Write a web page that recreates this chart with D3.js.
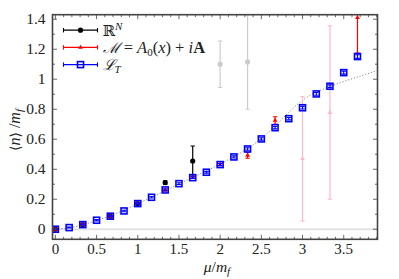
<!DOCTYPE html>
<html>
<head>
<meta charset="utf-8">
<script src="https://cdn.jsdelivr.net/npm/d3@7"></script>
<style>
  body { margin: 0; background: #fff; }
</style>
</head>
<body>
<div id="chart"></div>
<script>
// L_T (blue squares)
const blueX = [0, 0.167, 0.333, 0.5, 0.667, 0.833, 1, 1.167, 1.333, 1.5, 1.667, 1.833,
               2, 2.167, 2.333, 2.5, 2.667, 2.833, 3, 3.167, 3.333, 3.5, 3.667];
const blueY = [0, 0.011, 0.031, 0.06, 0.087, 0.122, 0.171, 0.213, 0.262, 0.304, 0.344, 0.38,
               0.431, 0.482, 0.535, 0.602, 0.677, 0.737, 0.81, 0.902, 0.953, 1.044, 1.151];
const blueErr = [0.002, 0.003, 0.003, 0.004, 0.004, 0.005, 0.005, 0.005, 0.006, 0.006, 0.006, 0.006,
                 0.007, 0.007, 0.008, 0.008, 0.008, 0.008, 0.009, 0.009, 0.009, 0.01, 0.012];

// M = A0(x) + iA (red triangles)
const redX = [0, 0.333, 0.667, 1, 1.333, 1.667, 2, 2.333, 2.667, 3, 3.333, 3.667];
const redY = [0, 0.031, 0.087, 0.171, 0.262, 0.344, 0.431, 0.493, 0.725, 0.47, 0.778, 1.41];
const redErr = [0.002, 0.003, 0.004, 0.005, 0.006, 0.006, 0.008, 0.02, 0.025, 0.415, 0.578, 0.235];
const redUnreliable = [3, 3.333];

// R^N (black circles)
const blackX = [0, 0.333, 0.667, 1, 1.333, 1.667, 2, 2.333];
const blackY = [0, 0.031, 0.087, 0.171, 0.311, 0.455, 1.10, 1.115];
const blackErr = [0.002, 0.003, 0.004, 0.005, 0.012, 0.1, 0.155, 0.315];
const blackUnreliable = [2, 2.333];

// dotted reference curve
const curveX = [0, 0.25, 0.5, 0.75, 1, 1.25, 1.5, 1.75, 2, 2.25, 2.5, 2.75, 3, 3.15, 3.33, 3.5, 3.7, 3.9];
const curveY = [0, 0.018, 0.058, 0.108, 0.17, 0.235, 0.302, 0.367, 0.435, 0.51, 0.605, 0.735, 0.86, 0.91, 0.951, 0.985, 1.02, 1.057];

const xTicks = [0, 0.5, 1, 1.5, 2, 2.5, 3, 3.5];
const yTicks = [0, 0.2, 0.4, 0.6, 0.8, 1, 1.2, 1.4];

const W = 399, H = 279;
const margin = {top: 14.7, right: 21.5, bottom: 39.7, left: 52.5};
const width = W - margin.left - margin.right;
const height = H - margin.top - margin.bottom;
const serif = '"Liberation Serif", "DejaVu Serif", serif';

const svg = d3.select('#chart').append('svg')
    .attr('width', W)
    .attr('height', H)
    .attr('font-family', serif)
    .style('font-family', serif);

const g = svg.append('g')
    .attr('transform', 'translate(' + margin.left + ',' + margin.top + ')');

const x = d3.scaleLinear().domain([-0.035, 3.91]).range([0, width]);
const y = d3.scaleLinear().domain([-0.067, 1.43]).range([height, 0]);

g.append('clipPath').attr('id', 'clip')
    .append('rect').attr('width', width).attr('height', height);

const plot = g.append('g').attr('clip-path', 'url(#clip)');

// zero line
plot.append('line')
    .attr('x1', 0).attr('x2', width)
    .attr('y1', y(0)).attr('y2', y(0))
    .attr('stroke', '#e2e2e2')
    .attr('stroke-width', 2.2);

// dotted curve
const line = d3.line()
    .x((d, i) => x(curveX[i]))
    .y(d => y(d))
    .curve(d3.curveMonotoneX);

plot.append('path')
    .datum(curveY)
    .attr('fill', 'none')
    .attr('stroke', '#8a8a8a')
    .attr('stroke-width', 1)
    .attr('stroke-dasharray', '1.2,1.8')
    .attr('d', line);

function series(xs, ys, errs, faded, color, fadeColor, marker) {
    const pts = xs.map((v, i) => ({x: v, y: ys[i], e: errs[i], c: faded.includes(v) ? fadeColor : color}));
    const sel = plot.append('g').selectAll('g').data(pts).enter().append('g');
    sel.append('line')
        .attr('x1', d => x(d.x)).attr('x2', d => x(d.x))
        .attr('y1', d => y(d.y - d.e)).attr('y2', d => y(d.y + d.e))
        .attr('stroke', d => d.c).attr('stroke-width', 1.2);
    [-1, 1].forEach(s => {
        sel.append('line')
            .attr('x1', d => x(d.x) - 2.2).attr('x2', d => x(d.x) + 2.2)
            .attr('y1', d => y(d.y + s * d.e)).attr('y2', d => y(d.y + s * d.e))
            .attr('stroke', d => d.c).attr('stroke-width', 1.1);
    });
    marker(sel);
}

const circle = sel => sel.append('circle')
    .attr('cx', d => x(d.x)).attr('cy', d => y(d.y)).attr('r', 2.6)
    .attr('fill', d => d.c);
const triangle = sel => sel.append('path')
    .attr('d', d3.symbol().type(d3.symbolTriangle).size(10))
    .attr('transform', d => 'translate(' + x(d.x) + ',' + y(d.y) + ')')
    .attr('fill', d => d.c);
const square = sel => sel.append('rect')
    .attr('x', d => x(d.x) - 3).attr('y', d => y(d.y) - 3)
    .attr('width', 6).attr('height', 6)
    .attr('fill', 'none').attr('stroke', d => d.c).attr('stroke-width', 1.6);

series(blackX, blackY, blackErr, blackUnreliable, '#000', '#cccccc', circle);
series(redX, redY, redErr, redUnreliable, '#ff0000', '#ffb8c6', triangle);
series(blueX, blueY, blueErr, [], '#0000ff', '#0000ff', square);

// frame + ticks
const frame = g.append('g');
frame.append('rect')
    .attr('width', width).attr('height', height)
    .attr('fill', 'none').attr('stroke', '#444').attr('stroke-width', 1.6);

const xMinor = d3.range(0, 3.91, 0.1);
const yMinor = d3.range(0, 1.43, 0.1);
xMinor.forEach(v => {
    const major = xTicks.some(t => Math.abs(t - v) < 1e-6);
    const len = major ? 4.5 : 2.5;
    frame.append('line').attr('x1', x(v)).attr('x2', x(v)).attr('y1', height).attr('y2', height - len)
        .attr('stroke', '#444').attr('stroke-width', 0.8);
    frame.append('line').attr('x1', x(v)).attr('x2', x(v)).attr('y1', 0).attr('y2', len)
        .attr('stroke', '#444').attr('stroke-width', 0.8);
});
yMinor.forEach(v => {
    const major = yTicks.some(t => Math.abs(t - v) < 1e-6);
    const len = major ? 4.5 : 2.5;
    frame.append('line').attr('y1', y(v)).attr('y2', y(v)).attr('x1', 0).attr('x2', len)
        .attr('stroke', '#444').attr('stroke-width', 0.8);
    frame.append('line').attr('y1', y(v)).attr('y2', y(v)).attr('x1', width).attr('x2', width - len)
        .attr('stroke', '#444').attr('stroke-width', 0.8);
});

const fmt = v => Number.isInteger(v) ? String(v) : d3.format('.1f')(v);

g.selectAll('.xlab').data(xTicks).enter().append('text')
    .attr('x', d => x(d)).attr('y', height + 15)
    .attr('text-anchor', 'middle')
    .attr('fill', '#222')
    .style('font-size', '15px')
    .text(fmt);

g.selectAll('.ylab').data(yTicks).enter().append('text')
    .attr('x', -7).attr('y', d => y(d) + 5)
    .attr('text-anchor', 'end')
    .attr('fill', '#222')
    .style('font-size', '15.5px')
    .text(fmt);

// axis titles
const xt = svg.append('text')
    .attr('x', 217).attr('y', 272)
    .attr('text-anchor', 'middle')
    .attr('fill', '#222')
    .style('font-size', '15.5px')
    .style('font-style', 'italic');
xt.append('tspan').text('μ');
xt.append('tspan').style('font-style', 'normal').text('/');
xt.append('tspan').text('m');
xt.append('tspan').attr('dy', 3).style('font-size', '11px').text('f');

const yt = svg.append('text')
    .attr('transform', 'translate(20,130) rotate(-90)')
    .attr('text-anchor', 'middle')
    .attr('fill', '#222')
    .style('font-size', '16px');
yt.append('tspan').style('font-family', 'DejaVu Serif').style('font-size', '14px').text('⟨');
yt.append('tspan').style('font-style', 'italic').text('n');
yt.append('tspan').style('font-family', 'DejaVu Serif').style('font-size', '14px').text('⟩');
yt.append('tspan').text(' /');
yt.append('tspan').style('font-style', 'italic').text('m');
yt.append('tspan').attr('dy', 3).style('font-size', '11px').style('font-style', 'italic').text('f');

// legend
const legend = g.append('g').attr('transform', 'translate(11,15.5)');
const rows = [
    {c: '#000', m: 'circle'},
    {c: '#ff0000', m: 'triangle'},
    {c: '#0000ff', m: 'square'}
];
rows.forEach((r, i) => {
    const ly = i * 17.2;
    const row = legend.append('g').attr('transform', 'translate(0,' + ly + ')');
    row.append('line').attr('x1', 0).attr('x2', 34).attr('stroke', r.c).attr('stroke-width', 1.2);
    [0, 34].forEach(px => row.append('line').attr('x1', px).attr('x2', px).attr('y1', -2.2).attr('y2', 2.2)
        .attr('stroke', r.c).attr('stroke-width', 1.1));
    if (r.m === 'circle') row.append('circle').attr('cx', 17).attr('r', 2.6).attr('fill', r.c);
    if (r.m === 'triangle') row.append('path').attr('d', d3.symbol().type(d3.symbolTriangle).size(10)())
        .attr('transform', 'translate(17,0)').attr('fill', r.c);
    if (r.m === 'square') row.append('rect').attr('x', 14).attr('y', -3).attr('width', 6).attr('height', 6)
        .attr('fill', 'none').attr('stroke', r.c).attr('stroke-width', 1.6);
});

const t1 = legend.append('text').attr('x', 39).attr('y', 5.5).attr('fill', '#222').style('font-size', '16.5px');
t1.append('tspan').style('font-family', 'DejaVu Serif').style('font-size', '15px').text('ℝ');
t1.append('tspan').attr('dy', -6).style('font-size', '11px').style('font-style', 'italic').text('N');

const t2 = legend.append('text').attr('x', 39).attr('y', 17.2 + 5.5).attr('fill', '#222').style('font-size', '16.5px');
t2.append('tspan').style('font-family', 'DejaVu Serif').style('font-style', 'italic').style('font-size', '15px').text('ℳ');
t2.append('tspan').text(' = ');
t2.append('tspan').style('font-style', 'italic').text('A');
t2.append('tspan').attr('dy', 3).style('font-size', '11px').text('0');
t2.append('tspan').attr('dy', -3).text('(');
t2.append('tspan').style('font-style', 'italic').text('x');
t2.append('tspan').text(') + ');
t2.append('tspan').style('font-style', 'italic').text('i');
t2.append('tspan').style('font-weight', 'bold').text('A');

const t3 = legend.append('text').attr('x', 39).attr('y', 34.4 + 5.5).attr('fill', '#222').style('font-size', '16.5px');
t3.append('tspan').style('font-family', 'DejaVu Serif').style('font-style', 'italic').style('font-size', '15px').text('ℒ');
t3.append('tspan').attr('dy', 3).style('font-size', '11px').style('font-style', 'italic').text('T');
</script>
</body>
</html>
